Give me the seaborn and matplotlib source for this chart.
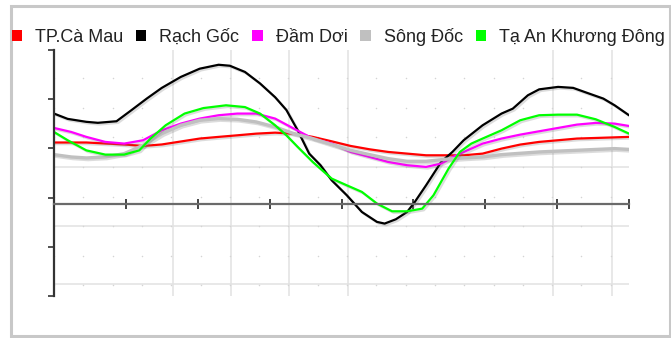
import numpy as np
import pandas as pd
import matplotlib
matplotlib.use("Agg")
import matplotlib.pyplot as plt
import matplotlib.patheffects as pe
from matplotlib.patches import Patch, Rectangle
import seaborn as sns

# Water level over one day (hours 0-24) at five stations
stations = ["TP.Cà Mau", "Rạch Gốc", "Đầm Dơi", "Sông Đốc", "Tạ An Khương Đông"]
colors = ["#ff0000", "#000000", "#ff00ff", "#c0c0c0", "#00ff00"]

hours_ca_mau = [0, 1.35, 2.93, 3.72, 4.50, 5.29, 6.08, 6.87, 7.65, 8.44, 9.23, 10.02,
                10.80, 11.59, 12.38, 13.17, 13.95, 14.74, 15.53, 16.31, 17.10, 17.89,
                18.68, 19.46, 20.25, 21.04, 21.83, 22.61, 24.0]
level_ca_mau = [0.56, 0.56, 0.54, 0.525, 0.54, 0.57, 0.60, 0.617, 0.633, 0.65, 0.66, 0.65,
                0.617, 0.572, 0.525, 0.491, 0.464, 0.447, 0.43, 0.43, 0.43, 0.447,
                0.498, 0.539, 0.566, 0.583, 0.60, 0.606, 0.617]

hours_rach_goc = [0, 0.57, 1.35, 1.83, 2.61, 3.24, 3.87, 4.50, 5.29, 6.08, 6.87, 7.34,
                  7.97, 8.60, 9.23, 9.70, 10.17, 10.65, 11.12, 11.59, 12.22, 12.85, 13.48,
                  13.80, 14.27, 14.74, 15.06, 15.53, 16.16, 16.63, 17.10, 17.89, 18.68,
                  19.15, 19.78, 20.25, 21.04, 21.67, 22.14, 22.93, 23.40, 24.0]
level_rach_goc = [0.854, 0.80, 0.77, 0.76, 0.776, 0.89, 1.006, 1.115, 1.226, 1.31, 1.35, 1.34,
                  1.277, 1.16, 1.02, 0.89, 0.684, 0.447, 0.33, 0.176, 0.024, -0.146, -0.247,
                  -0.264, -0.22, -0.146, -0.044, 0.125, 0.362, 0.464, 0.583, 0.735, 0.854,
                  0.904, 1.04, 1.10, 1.125, 1.115, 1.074, 1.006, 0.938, 0.837]

hours_dam_doi = [0, 0.72, 1.35, 2.14, 2.93, 3.72, 4.50, 5.29, 6.08, 6.87, 7.65, 8.44,
                 9.23, 10.02, 10.80, 11.59, 12.38, 13.17, 13.95, 14.74, 15.53, 16.16,
                 16.79, 17.42, 17.89, 18.68, 19.46, 20.25, 21.04, 21.83, 22.61, 23.40, 24.0]
level_dam_doi = [0.708, 0.667, 0.617, 0.566, 0.549, 0.583, 0.684, 0.752, 0.803, 0.837, 0.854, 0.854,
                 0.803, 0.70, 0.60, 0.549, 0.464, 0.413, 0.362, 0.329, 0.312, 0.346,
                 0.43, 0.498, 0.549, 0.60, 0.64, 0.674, 0.708, 0.742, 0.759, 0.752, 0.728]

hours_song_doc = [0, 0.72, 1.35, 2.14, 2.93, 3.72, 4.50, 5.29, 6.08, 6.87, 7.65, 8.44,
                  9.23, 10.02, 10.80, 11.59, 12.38, 13.17, 13.95, 14.74, 15.53, 16.31,
                  17.10, 17.89, 18.68, 20.25, 21.83, 23.40, 24.0]
level_song_doc = [0.437, 0.413, 0.403, 0.413, 0.447, 0.532, 0.65, 0.735, 0.786, 0.803, 0.796, 0.769,
                  0.718, 0.65, 0.60, 0.539, 0.481, 0.437, 0.396, 0.369, 0.369, 0.389,
                  0.403, 0.413, 0.437, 0.464, 0.481, 0.498, 0.49]

hours_ta_an = [0, 0.57, 1.35, 2.14, 2.93, 3.56, 4.03, 4.66, 5.45, 6.24, 7.18, 7.97,
               8.60, 9.23, 9.70, 10.17, 10.80, 11.59, 12.22, 12.85, 13.48, 14.11, 14.74,
               15.37, 15.84, 16.47, 16.94, 17.42, 17.89, 18.68, 19.46, 20.25, 21.04,
               21.83, 22.61, 23.40, 24.0]
level_ta_an = [0.667, 0.583, 0.48, 0.437, 0.437, 0.48, 0.60, 0.735, 0.854, 0.91, 0.938, 0.92,
               0.854, 0.735, 0.633, 0.515, 0.362, 0.193, 0.125, 0.058, -0.061, -0.139, -0.139,
               -0.112, 0.024, 0.295, 0.464, 0.549, 0.60, 0.684, 0.786, 0.837, 0.843,
               0.843, 0.796, 0.718, 0.65]

series_hours = [hours_ca_mau, hours_rach_goc, hours_dam_doi, hours_song_doc, hours_ta_an]
series_level = [level_ca_mau, level_rach_goc, level_dam_doi, level_song_doc, level_ta_an]

frames = [pd.DataFrame({"hour": h, "level": v, "station": s})
          for h, v, s in zip(series_hours, series_level, stations)]
df = pd.concat(frames, ignore_index=True)

sns.set_style("white")
plt.rcParams["font.family"] = ["Liberation Sans", "DejaVu Sans"]

W, H = 671, 338
fig = plt.figure(figsize=(W / 100, H / 100), dpi=100)
ax = fig.add_axes([54 / W, 1 - 296 / H, 575 / W, 246 / H])

x_min, x_max = 0, 24
y_min, y_max = -1.0, 1.5
axis_level = -0.06

# light background grid: a few solid lines plus a lattice of faint dots
grid_c = "#e2e2e2"
for gy in [0.311, -0.289, -0.881]:
    ax.plot([x_min, x_max], [gy, gy], color=grid_c, lw=1.1, zorder=0)
for gx in [4.95, 7.39, 9.81, 12.27, 20.83, 23.29]:
    ax.axvline(gx, color=grid_c, lw=1.1, zorder=0)
dot_x = np.arange(x_min, x_max + 0.01, 1.223)
dot_y = np.concatenate([np.arange(0.311, y_max, 0.3), np.arange(0.011, y_min, -0.3)])
gx_, gy_ = np.meshgrid(dot_x, dot_y)
ax.scatter(gx_.ravel(), gy_.ravel(), s=1.2, color="#d4d4d4", linewidths=0, zorder=0)

palette = dict(zip(stations, colors))
sns.lineplot(data=df, x="hour", y="level", hue="station", hue_order=stations,
             palette=palette, legend=False, ax=ax, sort=False, estimator=None)

widths = [1.6, 1.6, 1.6, 2.4, 1.6]
for line, lw in zip(ax.get_lines()[-len(stations):], widths):
    line.set_linewidth(lw)
    line.set_path_effects([pe.SimpleLineShadow(offset=(1.2, -1.2), shadow_color="#777777", alpha=0.25),
                           pe.Normal()])

ax.set_xlim(x_min, x_max)
ax.set_ylim(y_min, y_max)
ax.set_xlabel("")
ax.set_ylabel("")
ax.set_xticks(np.arange(0, 25, 3))
ax.set_yticks(np.arange(-1.0, 1.51, 0.5))
ax.set_xticklabels([])
ax.set_yticklabels([])

for side in ["top", "right"]:
    ax.spines[side].set_visible(False)
ax.spines["left"].set_color("#333333")
ax.spines["left"].set_linewidth(1.6)
ax.spines["bottom"].set_position(("data", axis_level))
ax.spines["bottom"].set_color("#6a6a6a")
ax.spines["bottom"].set_linewidth(1.6)
ax.tick_params(axis="y", direction="out", length=4, width=1.2, color="#333333", left=True)
ax.tick_params(axis="x", direction="inout", length=7, width=1.4, color="#444444", bottom=True)
ax.patch.set_alpha(0)

handles = [Patch(facecolor=c, edgecolor="none", label=s) for s, c in zip(stations, colors)]
fig.legend(handles=handles, loc="center left", bbox_to_anchor=(12 / W, 1 - 37 / H),
           ncol=5, frameon=False, fontsize=13, handlelength=0.56, handleheight=0.56,
           handletextpad=0.72, columnspacing=0.72, borderpad=0, borderaxespad=0,
           labelcolor="#222222")

# thin light frame around the chart
fig.patches.append(Rectangle((11 / W, 1 - 336 / H), 659 / W, 330 / H, transform=fig.transFigure,
                             fill=False, edgecolor="#c8c8c8", linewidth=2.2, zorder=-1))

fig.savefig("out.png", dpi=100)
